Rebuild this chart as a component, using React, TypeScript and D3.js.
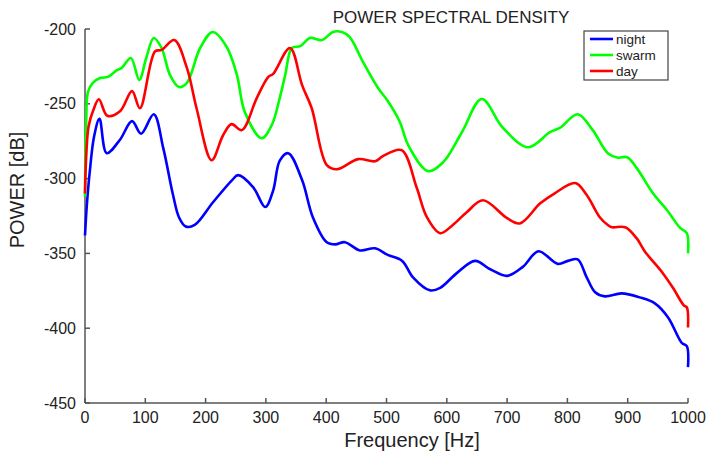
import React from 'react';
import * as d3 from 'd3';

// (Hz, dB)
const nightHz = [0, 3, 8, 15, 24, 36, 58, 78, 93, 114, 130, 146, 156, 167, 182, 212, 244, 254, 279, 299, 312, 323, 337, 360, 378, 401, 415, 431, 456, 481, 502, 526, 544, 572, 589, 617, 647, 672, 700, 726, 752, 784, 801, 817, 832, 846, 862, 890, 920, 945, 967, 990, 998, 1000];
const nightDb = [-338, -318, -295, -272, -260, -283, -274, -261.6, -270, -257, -280, -311, -326, -332, -331, -316, -301, -297.7, -305.8, -319, -308, -288, -283, -301, -326, -342.6, -344, -342.5, -348, -346.6, -351, -355, -366, -374.7, -373, -363, -355, -360.6, -365, -359, -348.6, -357, -355, -354, -366, -376, -378.7, -376.7, -379.4, -383.4, -392.8, -410, -412, -426];

const swarmHz = [0, 2, 5, 13, 25, 38, 53, 61, 76, 90, 102, 114, 127, 141, 156, 169, 191, 212, 235, 252, 265, 293, 310, 323, 332, 343, 357, 373, 393, 411, 426, 439, 461, 486, 501, 522, 536, 569, 594, 625, 658, 693, 735, 771, 788, 817, 842, 867, 884, 899, 915, 942, 965, 987, 998, 1000];
const swarmDb = [-312, -262, -242, -236, -232.8, -232, -227.5, -226, -219.4, -234, -218.7, -206, -212.7, -230.8, -238.8, -236, -212.7, -202, -212, -230.8, -255.5, -273, -264, -246, -230.8, -212.7, -211.4, -206, -207.4, -202, -202, -205.4, -222, -239.5, -247.5, -262, -277.6, -295, -289, -269, -246.8, -266, -279, -269, -266, -257, -267.6, -283, -286, -285.7, -293, -309.8, -321, -333, -336.5, -350];

const dayHz = [0, 2, 6, 14, 23, 37, 58, 78, 91, 116, 127, 148, 169, 185, 210, 229, 243, 260, 285, 304, 312, 340, 360, 376, 401, 418, 453, 481, 494, 525, 550, 567, 589, 610, 633, 660, 700, 721, 755, 779, 813, 832, 854, 867, 874, 896, 915, 929, 957, 975, 993, 998, 1000];
const dayDb = [-310, -285, -265, -254, -247, -258, -255, -241.5, -253, -215, -214, -207.4, -226, -253, -287.7, -271, -263.6, -267.6, -246, -232, -230, -212.7, -237.5, -253, -291, -293.7, -287, -288.4, -285, -281, -306, -325.8, -336.5, -331, -322.5, -314.5, -326.5, -330, -316.5, -309.8, -303, -311, -326, -331, -332.5, -332.5, -340, -349, -362.6, -373, -384.7, -386, -399.5];

const series = [
  { name: 'night', color: '#0000ff', hz: nightHz, db: nightDb },
  { name: 'swarm', color: '#00ff00', hz: swarmHz, db: swarmDb },
  { name: 'day', color: '#ff0000', hz: dayHz, db: dayDb },
];

const xTicks = [0, 100, 200, 300, 400, 500, 600, 700, 800, 900, 1000];
const yTicks = [-200, -250, -300, -350, -400, -450];

const W = 710;
const H = 452;
const font = 'Liberation Sans, Arial, sans-serif';
const axisColor = '#555';

export default function App() {
  const x = d3.scaleLinear().domain([0, 1000]).range([85, 688]);
  const y = d3.scaleLinear().domain([-450, -200]).range([403, 29]);

  const line = d3.line<[number, number]>()
    .x(d => x(d[0]))
    .y(d => y(d[1]))
    .curve(d3.curveCatmullRom.alpha(0.5));

  return (
    <svg width={W} height={H} style={{ position: 'absolute', left: 0, top: 0, background: '#fff' }}>
      {/* axes */}
      <line x1={x(0)} x2={x(0)} y1={y(-200)} y2={y(-450)} stroke={axisColor} strokeWidth={1.5} />
      <line x1={x(0)} x2={x(1000)} y1={y(-450)} y2={y(-450)} stroke={axisColor} strokeWidth={1.5} />
      {yTicks.map(t => (
        <g key={t}>
          <line x1={x(0)} x2={x(0) + 5} y1={y(t)} y2={y(t)} stroke={axisColor} strokeWidth={1.5} />
          <text x={x(0) - 9} y={y(t)} dy="0.35em" textAnchor="end" fontFamily={font} fontSize={16} fill="#222">{t}</text>
        </g>
      ))}
      {xTicks.map(t => (
        <g key={t}>
          <line x1={x(t)} x2={x(t)} y1={y(-450)} y2={y(-450) - 5} stroke={axisColor} strokeWidth={1.5} />
          <text x={x(t)} y={y(-450) + 20} textAnchor="middle" fontFamily={font} fontSize={16} fill="#222">{t}</text>
        </g>
      ))}

      {/* series */}
      {series.map(s => (
        <path key={s.name}
          d={line(s.hz.map((h, i) => [h, s.db[i]] as [number, number])) || ''}
          fill="none" stroke={s.color} strokeWidth={2.6} strokeLinejoin="round" />
      ))}

      {/* labels */}
      <text x={451} y={23} textAnchor="middle" fontFamily={font} fontSize={17} fill="#222">POWER SPECTRAL DENSITY</text>
      <text x={412} y={447} textAnchor="middle" fontFamily={font} fontSize={20} fill="#222">Frequency  [Hz]</text>
      <text transform={`translate(24,190) rotate(-90)`} textAnchor="middle" fontFamily={font} fontSize={20} fill="#222">POWER [dB]</text>

      {/* legend */}
      <rect x={584} y={31} width={84} height={49} fill="#fff" stroke="#444" strokeWidth={1.2} />
      {series.map((s, i) => (
        <g key={s.name}>
          <line x1={590} x2={613} y1={39 + i * 16} y2={39 + i * 16} stroke={s.color} strokeWidth={2.6} />
          <text x={616} y={39 + i * 16} dy="0.35em" fontFamily={font} fontSize={13.5} fill="#222">{s.name}</text>
        </g>
      ))}
    </svg>
  );
}
